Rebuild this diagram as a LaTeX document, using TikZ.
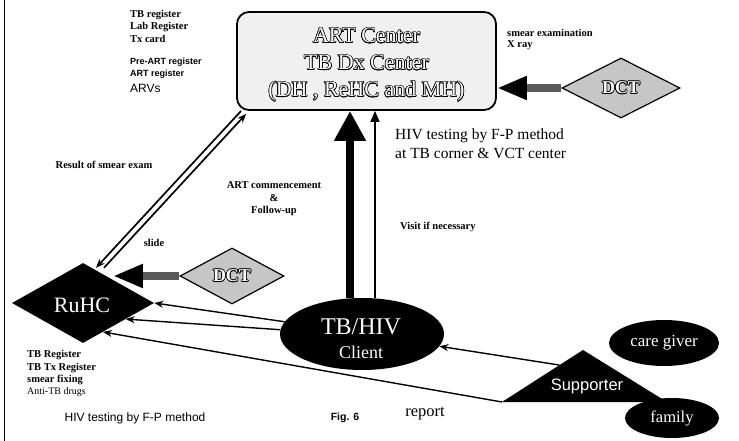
\documentclass[tikz,border=0pt]{standalone}
\usepackage{fontspec}
\setmainfont{Liberation Serif}
\setsansfont{Liberation Sans}
\usetikzlibrary{shapes.geometric,arrows.meta,calc}
\IfFileExists{contour.sty}{\usepackage{contour}\contourlength{0.6pt}\def\haveoutline{1}}{}
\newcommand\olt[1]{\ifdefined\haveoutline\textcolor{white}{\contour{black}{#1}}\else#1\fi}
\tikzset{
  lab/.style={font=\fontsize{10.5}{12}\selectfont\bfseries, inner sep=0pt},
  labs/.style={font=\sffamily\fontsize{9}{11}\selectfont\bfseries, inner sep=0pt, anchor=west},
  dctbox/.style={diamond, draw, line width=1.2pt, fill=gray!45, inner sep=0pt,
    font=\fontsize{18}{18}\selectfont\bfseries},
  blackell/.style={ellipse, fill=black, inner sep=0pt, text=white},
  arr/.style={line width=1.4pt, -{Stealth[length=9pt,width=7pt]}},
  fatarrow/.style={line width=8pt, draw=black!65, -{Triangle[length=30pt,width=22pt,color=black]}},
  thickarrow/.style={line width=8pt, -{Triangle[length=30pt,width=30pt]}},
  thinarrow/.style={line width=1.6pt, -{Triangle[length=11pt,width=9pt]}},
  dblline/.style={line width=1.7pt, -{Stealth[length=9pt,width=7pt]}}
}
\begin{document}
\begin{tikzpicture}[x=1pt,y=-1pt]
\useasboundingbox (0,0) rectangle (739,441);
\draw[line width=1pt] (4,0) -- (4,441);

% ART center box
\node[draw, line width=1.8pt, rounded corners=12pt, fill=gray!12, minimum width=259pt,
  minimum height=98pt, inner sep=0pt] (art) at (366.5,61) {};
\node[align=center, inner sep=0pt, font=\fontsize{22}{27}\selectfont] (arttxt) at (366.5,65)
  {\olt{ART Center}\\ \olt{TB Dx Center}\\ \olt{(DH , ReHC and MH)}};

% left labels
\node[lab, anchor=west] (l1) at (130,15) {TB register};
\node[lab, anchor=west] (l2) at (130,27) {Lab Register};
\node[lab, anchor=west] (l3) at (130,39) {Tx card};
\node[labs] (l4) at (130,62) {Pre-ART register};
\node[labs] (l5) at (130,74) {ART register};
\node[inner sep=0pt, anchor=west, font=\sffamily\fontsize{12}{14}\selectfont] (l6) at (130,88) {ARVs};

\node[lab, anchor=west] (r1) at (507,33) {smear examination};
\node[lab, anchor=west] (r2) at (507,45) {X ray};

% DCT top right
\node[dctbox, minimum width=118pt, minimum height=60pt] (dct1) at (621,88) {\olt{DCT}};

\node[inner sep=0pt, anchor=west, font=\fontsize{15.5}{17}\selectfont] (h1) at (395,136) {HIV testing by F-P method};
\node[inner sep=0pt, anchor=west, font=\fontsize{15.5}{17}\selectfont] (h2) at (395,153) {at TB corner \& VCT center};

\node[lab] (a1) at (274,185) {ART commencement};
\node[lab] (a2) at (274,198) {\&};
\node[lab] (a3) at (274,211) {Follow-up};
\node[lab, anchor=west] (v1) at (400,227) {Visit if necessary};
\node[lab] (s1) at (104,165) {Result of smear exam};
\node[lab] (s2) at (154,243) {slide};

% DCT lower
\node[dctbox, minimum width=104pt, minimum height=56pt] (dct2) at (232,276) {\olt{DCT}};

% RuHC
\node[diamond, fill=black, inner sep=0pt, minimum width=142pt, minimum height=80pt] (ruhc) at (83,303) {};
\node[text=white, inner sep=0pt, font=\fontsize{22}{22}\selectfont] (ruhctxt) at (82,305) {RuHC};

% client
\node[blackell, minimum width=164pt, minimum height=72pt] (client) at (362,334) {};
\node[text=white, inner sep=0pt, font=\fontsize{24}{24}\selectfont] (ct1) at (361,327) {TB/HIV};
\node[text=white, inner sep=0pt, font=\fontsize{18}{18}\selectfont] (ct2) at (361,352) {Client};

% supporter
\coordinate (supA) at (583,350);
\coordinate (supL) at (502,402);
\coordinate (supR) at (667,402);
\fill (supA) -- (supL) -- (supR) -- cycle;
\node[text=white, inner sep=0pt, font=\sffamily\fontsize{16.5}{16.5}\selectfont] (sup) at (587,386) {Supporter};

\node[blackell, minimum width=110pt, minimum height=46pt, font=\fontsize{17}{17}\selectfont] (care) at (664,343) {care giver};
\node[blackell, minimum width=94pt, minimum height=40pt, font=\fontsize{16.5}{16.5}\selectfont] (fam) at (672,418) {family};

\node[inner sep=0pt, font=\fontsize{16.5}{16.5}\selectfont] (rep) at (425,414) {report};

% bottom-left labels
\node[lab, anchor=west] (b1) at (27,355) {TB Register};
\node[lab, anchor=west] (b2) at (27,368) {TB Tx Register};
\node[lab, anchor=west] (b3) at (27,380) {smear fixing};
\node[inner sep=0pt, anchor=west, font=\fontsize{10}{11}\selectfont] (b4) at (27,392) {Anti-TB drugs};
\node[inner sep=0pt, font=\sffamily\fontsize{12}{14}\selectfont] (hb) at (135,418) {HIV testing by F-P method};
\node[inner sep=0pt, font=\sffamily\fontsize{10.5}{12}\selectfont\bfseries] (fig) at (345,418) {Fig. 6};

% connectors
\draw[thickarrow] ([xshift=-12pt]client.north) -- ([xshift=-12pt]client.north |- art.south);
\draw[thinarrow] ([xshift=13pt]client.north) -- ([xshift=13pt]client.north |- art.south);
\draw[fatarrow] (dct1.west) -- (dct1.west -| art.east);
\coordinate (rtip) at ($(ruhc.north)!0.42!(ruhc.east)$);
\draw[fatarrow] (dct2.west) -- (dct2.west -| rtip);

\coordinate (upS) at ($(ruhc.north)+(21,5)$);
\coordinate (upE) at ($(art.south west)+(10,3)$);
\coordinate (dnS) at ($(art.south west)+(5,0)$);
\coordinate (dnE) at ($(ruhc.north)+(13,5)$);
\draw[dblline] (upS) -- (upE);
\draw[dblline] (dnS) -- (dnE);

\draw[arr] (client.171) -- (ruhc.east);
\draw[arr] (client.177) -- ($(ruhc.east)!0.4!(ruhc.south)$);
\draw[arr] (supL) -- ($(ruhc.south)!0.28!(ruhc.east)$);
\coordinate (supP) at ($(supA)!0.29!(supL)$);
\draw[arr] (supP) -- (client.351);
\end{tikzpicture}
\end{document}
